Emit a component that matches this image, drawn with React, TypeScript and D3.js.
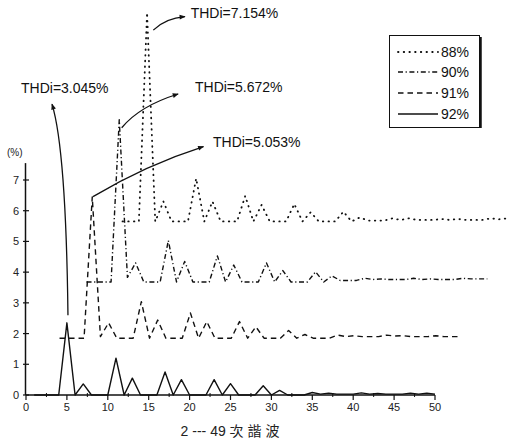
import React from 'react';
import * as d3 from 'd3';

// harmonic order (own harmonic number of each series)
const harmonics = [1, 2, 3, 4, 5, 6, 7, 8, 9, 10, 11, 12, 13, 14, 15, 16, 17, 18, 19, 20, 21, 22, 23, 24, 25, 26, 27, 28, 29, 30, 31, 32, 33, 34, 35, 36, 37, 38, 39, 40, 41, 42, 43, 44, 45, 46, 47, 48, 49, 50];

// harmonic content (%) per series
const values88: (number | null)[] = [null, 0, 0, 0, 6.8, 0, 0.65, 0, 0, 0, 1.4, 0, 0.65, 0, 0, 0, 0.83, 0, 0.54, 0, 0, 0, 0.57, 0, 0.3, 0, 0, 0, 0.32, 0, 0.13, 0.03, 0.03, 0.03, 0.1, 0.05, 0.1, 0.05, 0.05, 0.05, 0.08, 0.05, 0.08, 0.05, 0.05, 0.05, 0.1, 0.07, 0.1, 0.05];
const values90: (number | null)[] = [0, 0, 0, 0, 5.28, 0.15, 0.62, 0, 0, 0, 1.35, 0, 0.67, 0, 0, 0, 0.85, 0, 0.55, 0, 0, 0, 0.62, 0, 0.37, 0, 0, 0, 0.33, 0, 0.2, 0.05, 0.05, 0.05, 0.12, 0.08, 0.1, 0.08, 0.08, 0.08, 0.12, 0.08, 0.1, 0.08, 0.08, 0.08, 0.12, 0.1, 0.1, 0.1];
const values91: (number | null)[] = [0, 0, 0, 0, 4.6, 0.05, 0.5, 0, 0, 0, 1.19, 0, 0.59, 0, 0, 0, 0.82, 0, 0.54, 0, 0, 0, 0.54, 0, 0.37, 0, 0, 0, 0.25, 0, 0.12, 0, 0, 0, 0.1, 0.05, 0.08, 0.05, 0.05, 0.05, 0.1, 0.07, 0.08, 0.05, 0.05, 0.05, 0.08, 0.05, 0.05, 0.05];
const values92: (number | null)[] = [0, 0, 0, 0, 2.35, 0, 0.36, 0, 0, 0, 1.2, 0, 0.55, 0, 0, 0, 0.75, 0, 0.5, 0, 0, 0, 0.5, 0, 0.37, 0, 0, 0, 0.3, 0, 0.15, 0, 0, 0, 0.08, 0.03, 0.06, 0.03, 0.03, 0.03, 0.07, 0.03, 0.05, 0.03, 0.03, 0.03, 0.06, 0.03, 0.06, 0.03];

const seriesNames = ['88%', '90%', '91%', '92%'];
const seriesValues = [values88, values90, values91, values92];
// waterfall displacement of each trace (harmonic shift, % offset)
const xShifts = [9.8, 6.4, 3.1, 0];
const yOffsets = [5.65, 3.68, 1.85, 0];
const dashStyles = ['0.5 5.2', '5 2.6 1.2 2.6', '5.5 4', 'none'];

const thdLabels = ['THDi=7.154%', 'THDi=5.672%', 'THDi=5.053%', 'THDi=3.045%'];
// annotation geometry in data units: arrow start, control, tip, label anchor
const annStart = [[15.56, 11.88], [11.7, 8.7], [8.19, 6.46], [5.13, 2.6]];
const annCtrl = [[17.05, 12.27], [13.89, 9.41], [14.64, 7.49], [4.89, 7.98]];
const annEnd = [[19.44, 12.32], [18.6, 9.8], [21.7, 8.09], [3.18, 9.47]];
const annLabel = [[20.13, 12.27], [20.66, 9.85], [22.86, 8.08], [-0.61, 9.83]];

const xTicks = [0, 5, 10, 15, 20, 25, 30, 35, 40, 45, 50];
const xMinorTicks = [2.5, 7.5, 12.5, 17.5, 22.5, 27.5, 32.5, 37.5, 42.5, 47.5];
const yTicks = [0, 1, 2, 3, 4, 5, 6, 7];
const xTitle = '2 --- 49 次 諧 波';
const yUnit = '(%)';

const W = 507;
const H = 441;
const FONT = '"Liberation Sans", Arial, sans-serif';

export default function App() {
  const x = d3.scaleLinear().domain([0, 50]).range([26, 435]);
  const y = d3.scaleLinear().domain([0, 7]).range([395, 180]);

  const paths = seriesValues.map((vals, si) => {
    const line = d3
      .line<number | null>()
      .defined((v) => v != null)
      .x((_, i) => x(harmonics[i] + xShifts[si]))
      .y((v) => y((v as number) + yOffsets[si]));
    return line(vals) || '';
  });

  const legendX0 = 398;
  const legendX1 = 438;
  const legendY = [52, 72, 93, 114];

  return (
    <svg
      width={W}
      height={H}
      viewBox={`0 0 ${W} ${H}`}
      style={{ position: 'absolute', left: 0, top: 0, background: '#fff' }}
    >
      <defs>
        <marker
          id="arrowhead"
          viewBox="0 0 10 10"
          refX="9"
          refY="5"
          markerWidth="8"
          markerHeight="6"
          markerUnits="userSpaceOnUse"
          orient="auto"
        >
          <path d="M0,1 L10,5 L0,9 z" fill="#111" />
        </marker>
      </defs>
      <rect x={0} y={0} width={W} height={H} fill="#fff" />

      {/* axes */}
      <line x1={x(0)} x2={x(50)} y1={y(0)} y2={y(0)} stroke="#111" strokeWidth={1.5} />
      <line x1={x(0) - 0.5} x2={x(0) - 0.5} y1={y(0)} y2={y(7.55)} stroke="#111" strokeWidth={1.5} />
      {xTicks.map((t) => (
        <g key={'xt' + t}>
          <line x1={x(t)} x2={x(t)} y1={y(0)} y2={y(0) + 5} stroke="#111" strokeWidth={1.2} />
          <text
            x={x(t)}
            y={y(0) + 16}
            textAnchor="middle"
            fontFamily={FONT}
            fontSize={11}
            fill="#222"
          >
            {t}
          </text>
        </g>
      ))}
      {xMinorTicks.map((t) => (
        <line key={'xm' + t} x1={x(t)} x2={x(t)} y1={y(0) - 2} y2={y(0) + 2} stroke="#111" strokeWidth={1} />
      ))}
      {yTicks.map((t) => (
        <g key={'yt' + t}>
          <line x1={x(0) - 3} x2={x(0) + 3} y1={y(t)} y2={y(t)} stroke="#111" strokeWidth={1.2} />
          <text
            x={x(0) - 10}
            y={y(t) + 4}
            textAnchor="middle"
            fontFamily={FONT}
            fontSize={11}
            fill="#222"
          >
            {t}
          </text>
        </g>
      ))}
      <text x={7} y={156} fontFamily={FONT} fontSize={10} fill="#222">
        {yUnit}
      </text>
      <text
        x={230}
        y={436}
        textAnchor="middle"
        fontFamily='"Liberation Sans", "Noto Sans CJK TC", sans-serif'
        fontSize={14}
        fill="#222"
      >
        {xTitle}
      </text>

      {/* series traces */}
      {paths.map((d, si) => (
        <path
          key={'s' + si}
          d={d}
          fill="none"
          stroke="#111"
          strokeWidth={si === 0 ? 1.8 : 1.4}
          strokeLinecap={si === 0 ? 'round' : 'butt'}
          strokeLinejoin="round"
          strokeDasharray={dashStyles[si]}
        />
      ))}

      {/* THDi annotations */}
      {thdLabels.map((label, i) => {
        const d = `M${x(annStart[i][0])},${y(annStart[i][1])} Q${x(annCtrl[i][0])},${y(annCtrl[i][1])} ${x(annEnd[i][0])},${y(annEnd[i][1])}`;
        return (
          <g key={'a' + i}>
            <path d={d} fill="none" stroke="#111" strokeWidth={1.3} markerEnd="url(#arrowhead)" />
            <text
              x={x(annLabel[i][0])}
              y={y(annLabel[i][1])}
              fontFamily={FONT}
              fontSize={14}
              fill="#111"
            >
              {label}
            </text>
          </g>
        );
      })}

      {/* legend */}
      <rect x={389.5} y={35.5} width={90} height={92} fill="#fff" stroke="#111" strokeWidth={1} />
      <line x1={480.5} x2={480.5} y1={37} y2={128} stroke="#111" strokeWidth={2.5} />
      {seriesNames.map((name, si) => (
        <g key={'l' + si}>
          <line
            x1={legendX0}
            x2={legendX1}
            y1={legendY[si]}
            y2={legendY[si]}
            stroke="#111"
            strokeWidth={si === 0 ? 1.8 : 1.4}
            strokeLinecap={si === 0 ? 'round' : 'butt'}
            strokeDasharray={dashStyles[si]}
          />
          <text x={441} y={legendY[si] + 5} fontFamily={FONT} fontSize={14} fill="#111">
            {name}
          </text>
        </g>
      ))}
    </svg>
  );
}
